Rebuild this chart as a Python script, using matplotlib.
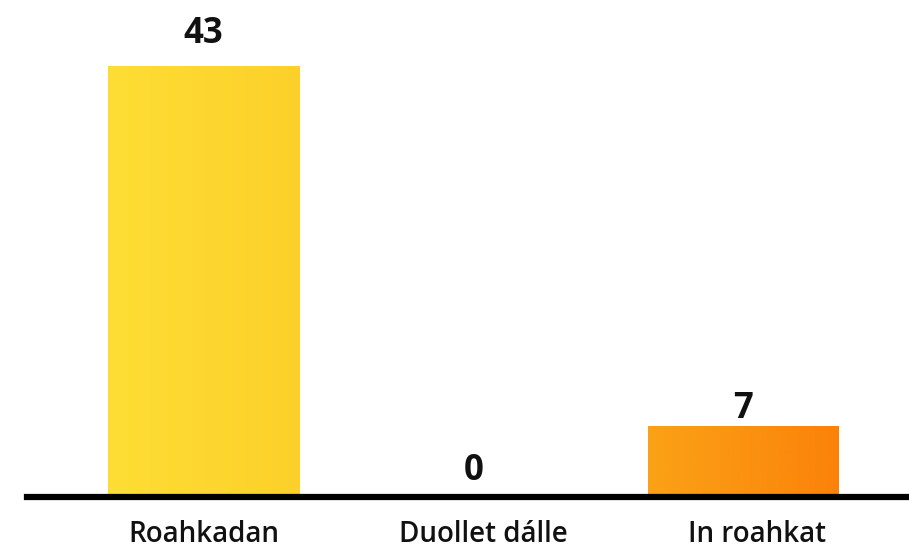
import numpy as np
import matplotlib.pyplot as plt
from matplotlib.colors import LinearSegmentedColormap

categories = ["Roahkadan", "Duollet dálle", "In roahkat"]
values = [43, 0, 7]
left_colors = ["#FEDE34", "#FEDE34", "#FBA216"]
right_colors = ["#FCD02A", "#FCD02A", "#FB820A"]
label_offsets = [10, 6, 0]      # points above bar top
cat_shift = [0, 7, 10]          # points, horizontal nudge of category labels

plt.rcParams["font.family"] = ["Open Sans", "DejaVu Sans"]

fig = plt.figure(figsize=(9.09, 5.5), dpi=100)
ax = fig.add_axes([0, 0, 1, 1])
x = np.arange(len(categories))
width = 191 / 270

ax.set_xlim(-203.5 / 270, (909 - 203.5) / 270)
ppu = 431 / 43
ax.set_ylim(-53 / ppu, (550 - 53) / ppu)

grad = np.linspace(0, 1, 256).reshape(1, -1)
for i, v in enumerate(values):
    if v > 0:
        cmap = LinearSegmentedColormap.from_list("g%d" % i, [left_colors[i], right_colors[i]])
        ax.imshow(grad, cmap=cmap, aspect="auto", interpolation="bicubic",
                  extent=[x[i] - width / 2, x[i] + width / 2, 0, v], zorder=1)
    ax.annotate(str(v), (x[i], v), xytext=(0, label_offsets[i]), textcoords="offset points",
                ha="center", va="bottom", fontsize=25, fontweight="bold", color="#111111")
    ax.annotate(categories[i], (x[i], -3.7), xytext=(cat_shift[i], 0), textcoords="offset points",
                ha="center", va="center", fontsize=20, fontweight="semibold", color="#111111")

ax.axhline(0, xmin=27 / 909, xmax=1, color="black", linewidth=4.5, zorder=3)
ax.set_xlim(-203.5 / 270, (909 - 203.5) / 270)
ax.set_ylim(-53 / ppu, (550 - 53) / ppu)
ax.axis("off")

fig.savefig("out.png", dpi=100)
